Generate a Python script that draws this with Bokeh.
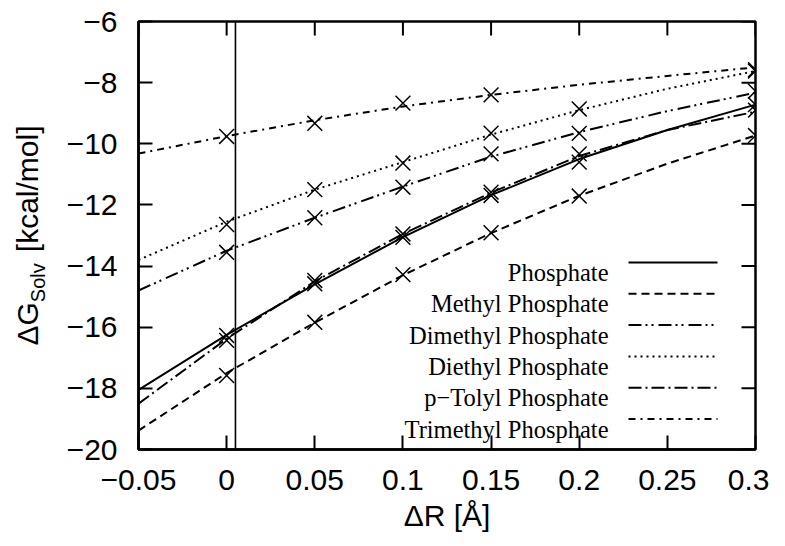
from bokeh.plotting import figure
from bokeh.models import Range1d, LinearAxis, FixedTicker, Span, Label
from bokeh.embed import file_html
from bokeh.resources import INLINE

# ---------------- data ----------------
x_data = [0.0, 0.05, 0.10, 0.15, 0.20, 0.30]
x_fit = [-0.05, 0.0, 0.05, 0.10, 0.15, 0.20, 0.25, 0.30]

series_names = ["Phosphate", "Methyl Phosphate", "Dimethyl Phosphate",
                "Diethyl Phosphate", "p\u2212Tolyl Phosphate", "Trimethyl Phosphate"]

phosphate_pts = [-16.27, -14.58, -13.06, -11.69, -10.60, -8.72]
phosphate_fit = [-18.05, -16.25, -14.60, -13.05, -11.68, -10.50, -9.55, -8.72]

methyl_pts = [-17.58, -15.84, -14.28, -12.91, -11.71, -9.73]
methyl_fit = [-19.38, -17.50, -15.85, -14.30, -12.92, -11.70, -10.65, -9.73]

dimethyl_pts = [-13.55, -12.42, -11.42, -10.33, -9.66, -8.28]
dimethyl_fit = [-14.80, -13.50, -12.42, -11.40, -10.42, -9.62, -8.93, -8.33]

diethyl_pts = [-12.64, -11.50, -10.63, -9.65, -8.86, -7.62]
diethyl_fit = [-13.80, -12.55, -11.50, -10.60, -9.70, -8.90, -8.20, -7.62]

ptolyl_pts = [-16.43, -14.47, -12.95, -11.58, -10.33, -8.90]
ptolyl_fit = [-18.50, -16.38, -14.50, -12.95, -11.60, -10.40, -9.55, -8.95]

trimethyl_pts = [-9.76, -9.33, -8.67, -8.40, None, -7.58]
trimethyl_fit = [-10.32, -9.75, -9.23, -8.78, -8.40, -8.07, -7.78, -7.50]

x_ticks = [-0.05, 0.0, 0.05, 0.10, 0.15, 0.20, 0.25, 0.30]
x_tick_labels = ["\u22120.05", "0", "0.05", "0.1", "0.15", "0.2", "0.25", "0.3"]
y_ticks = [-20, -18, -16, -14, -12, -10, -8, -6]
y_tick_labels = ["\u221220", "\u221218", "\u221216", "\u221214", "\u221212", "\u221210", "\u22128", "\u22126"]

x_title = "\u0394R [\u00c5]"
y_title_main = "\u0394G"
y_title_sub = "Solv"
y_title_rest = "[kcal/mol]"

ref_line_x = 0.005

# ---------------- styles / layout ----------------
dashes = ["solid", "8 5", "13 4 2 4 2 5", "2 4", "13 4 2 4", "7 5 2 5"]
all_pts = [phosphate_pts, methyl_pts, dimethyl_pts, diethyl_pts, ptolyl_pts, trimethyl_pts]
all_fit = [phosphate_fit, methyl_fit, dimethyl_fit, diethyl_fit, ptolyl_fit, trimethyl_fit]

X0, X1 = -0.05, 0.30
Y0, Y1 = -20.0, -6.0
W, H = 769, 530
FL, FR, FT, FB = 138, 755, 21, 449  # frame edges in figure pixels
TICK = 14
NBSP = "\u00a0"


def px_x(px):
    return X0 + (px - FL) / (FR - FL) * (X1 - X0)


def px_y(py):
    return Y1 - (py - FT) / (FB - FT) * (Y1 - Y0)


SANS = "Liberation Sans"
SERIF = "Liberation Serif"

p = figure(frame_width=FR - FL, frame_height=FB - FT,
           x_range=Range1d(X0, X1), y_range=Range1d(Y0, Y1),
           output_backend="svg", toolbar_location=None,
           min_border_left=FL, min_border_top=FT,
           min_border_right=W - FR, min_border_bottom=H - FB)
p.xgrid.visible = False
p.ygrid.visible = False
p.background_fill_color = "white"
p.border_fill_color = "white"
p.outline_line_color = "black"
p.outline_line_width = 2.5


def style_axis(ax, ticks, labels, standoff):
    ax.ticker = FixedTicker(ticks=ticks)
    ax.major_label_overrides = {t: l for t, l in zip(ticks, labels)}
    ax.major_tick_in = TICK
    ax.major_tick_out = 0
    ax.major_tick_line_width = 2
    ax.major_tick_line_color = "black"
    ax.minor_tick_line_color = None
    ax.axis_line_width = 2.5
    ax.axis_line_color = "black"
    ax.major_label_text_font = SANS
    ax.major_label_text_color = "black"
    ax.major_label_standoff = standoff
    ax.major_label_text_font_size = "30px"
    ax.axis_label_text_font = SANS
    ax.axis_label_text_font_style = "normal"
    ax.axis_label_text_color = "black"


xax = p.xaxis[0]
yax = p.yaxis[0]
style_axis(xax, x_ticks, x_tick_labels, 20)
style_axis(yax, y_ticks, y_tick_labels, 21)

# x title
xax.axis_label = x_title
xax.axis_label_text_font_size = "30px"
xax.axis_label_standoff = 6

# y title: subscript on the tick axis, main text on an extra (tick-less) axis
yax.axis_label = y_title_sub + NBSP * 17
yax.axis_label_text_font_size = "20px"
yax.axis_label_standoff = 15

title_ax = LinearAxis(ticker=FixedTicker(ticks=[]))
title_ax.axis_line_color = None
title_ax.major_tick_line_color = None
title_ax.minor_tick_line_color = None
title_ax.major_label_standoff = 0
title_ax.axis_label = y_title_main + NBSP * 6 + y_title_rest
title_ax.axis_label_text_font = SANS
title_ax.axis_label_text_font_size = "30px"
title_ax.axis_label_text_font_style = "normal"
title_ax.axis_label_text_color = "black"
title_ax.axis_label_standoff = -20
p.add_layout(title_ax, "left")

# mirrored ticks on the top and right edges
dy_tick = TICK / (FB - FT) * (Y1 - Y0)
dx_tick = TICK / (FR - FL) * (X1 - X0)
p.segment(x0=x_ticks, y0=[Y1] * len(x_ticks), x1=x_ticks, y1=[Y1 - dy_tick] * len(x_ticks),
          line_color="black", line_width=2)
p.segment(x0=[X1] * len(y_ticks), y0=y_ticks, x1=[X1 - dx_tick] * len(y_ticks), y1=y_ticks,
          line_color="black", line_width=2)

p.add_layout(Span(location=ref_line_x, dimension="height",
                  line_color="black", line_width=1.6))

for pts, fit, dash in zip(all_pts, all_fit, dashes):
    p.line(x_fit, fit, line_color="black", line_width=2, line_dash=dash)
    xs = [x for x, y in zip(x_data, pts) if y is not None]
    ys = [y for y in pts if y is not None]
    p.scatter(xs, ys, marker="x", size=21, line_color="black", line_width=1.5)

# legend (gnuplot style: right-aligned text, sample on the right)
LEG_TEXT_R = 608
LEG_S0, LEG_S1 = 628, 717
LEG_Y0, LEG_DY = 262, 31.3
for i, (name, dash) in enumerate(zip(series_names, dashes)):
    py = LEG_Y0 + i * LEG_DY
    p.line([px_x(LEG_S0), px_x(LEG_S1)], [px_y(py), px_y(py)],
           line_color="black", line_width=2, line_dash=dash)
    p.add_layout(Label(x=px_x(LEG_TEXT_R), y=px_y(py + 10), text=name,
                       text_align="right", text_baseline="alphabetic",
                       text_font=SERIF, text_font_size="24.5px", text_color="black"))

open("out.html", "w").write(file_html(p, INLINE))
